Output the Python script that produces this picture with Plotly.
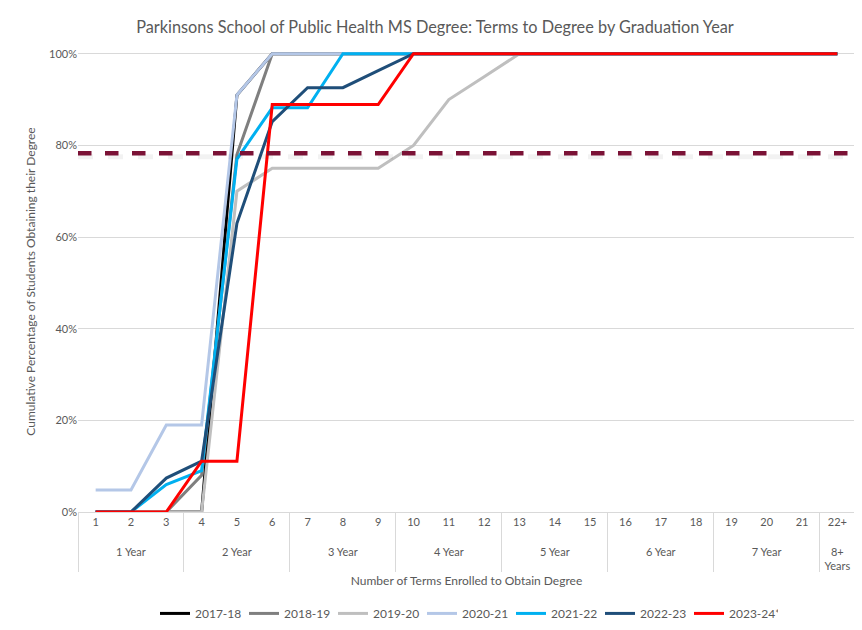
import plotly.graph_objects as go

# x-axis categories (two levels: year group / term)
# the leading <br> drops the group labels one line lower, as in the original
year_groups = ["<br>1 Year", "<br>1 Year", "<br>1 Year",
               "<br>2 Year", "<br>2 Year", "<br>2 Year",
               "<br>3 Year", "<br>3 Year", "<br>3 Year",
               "<br>4 Year", "<br>4 Year", "<br>4 Year",
               "<br>5 Year", "<br>5 Year", "<br>5 Year",
               "<br>6 Year", "<br>6 Year", "<br>6 Year",
               "<br>7 Year", "<br>7 Year", "<br>7 Year",
               "<br>8+<br>Years"]
terms = ["1", "2", "3", "4", "5", "6", "7", "8", "9", "10", "11",
         "12", "13", "14", "15", "16", "17", "18", "19", "20", "21", "22+"]

# cumulative % of students with degree, by graduation year
pct_2017_18 = [0, 0, 0, 0, 91, 100, 100, 100, 100, 100, 100,
               100, 100, 100, 100, 100, 100, 100, 100, 100, 100, 100]
pct_2018_19 = [0, 0, 0, 8, 78, 100, 100, 100, 100, 100, 100,
               100, 100, 100, 100, 100, 100, 100, 100, 100, 100, 100]
pct_2019_20 = [0, 0, 0, 0, 70, 75, 75, 75, 75, 80, 90,
               95, 100, 100, 100, 100, 100, 100, 100, 100, 100, 100]
pct_2020_21 = [4.8, 4.8, 19, 19, 91, 100, 100, 100, 100, 100, 100,
               100, 100, 100, 100, 100, 100, 100, 100, 100, 100, 100]
pct_2021_22 = [0, 0, 6, 9, 77, 88.2, 88.2, 100, 100, 100, 100,
               100, 100, 100, 100, 100, 100, 100, 100, 100, 100, 100]
pct_2022_23 = [0, 0, 7.4, 11.1, 63, 85.2, 92.6, 92.6, 96.3, 100, 100,
               100, 100, 100, 100, 100, 100, 100, 100, 100, 100, 100]
pct_2023_24 = [0, 0, 0, 11.1, 11.1, 88.9, 88.9, 88.9, 88.9, 100, 100,
               100, 100, 100, 100, 100, 100, 100, 100, 100, 100, 100]

series_names = ["2017-18", "2018-19", "2019-20", "2020-21",
                "2021-22", "2022-23", "2023-24*"]
series_values = [pct_2017_18, pct_2018_19, pct_2019_20, pct_2020_21,
                 pct_2021_22, pct_2022_23, pct_2023_24]
series_colors = ["#000000", "#7F7F7F", "#BFBFBF", "#B4C7E7",
                 "#00B0F0", "#1F4E79", "#FF0000"]

target_pct = 78.3

FONT = "Lato"
GREY_TXT = "#595959"

fig = go.Figure()

for name, vals, color in zip(series_names, series_values, series_colors):
    fig.add_trace(go.Scatter(
        x=[year_groups, terms],
        y=vals,
        name=name,
        mode="lines",
        line=dict(color=color, width=3),
    ))

# soft shadow + dashed target line
fig.add_hline(y=target_pct - 0.8, line=dict(color="rgba(0,0,0,0.05)", width=5, dash="dash"))
fig.add_hline(y=target_pct, line=dict(color="#7B1236", width=4.5, dash="dash"))

# page body has an 8px margin, so the figure is a bit smaller to fit the window
fig.update_layout(
    width=854,
    height=622,
    plot_bgcolor="white",
    paper_bgcolor="white",
    margin=dict(l=70, r=7, t=43, b=118, autoexpand=False),
    font=dict(family=FONT, color=GREY_TXT, size=11),
    title=dict(
        text="Parkinsons School of Public Health MS Degree: Terms to Degree by Graduation Year",
        x=0.5,
        xanchor="center",
        xref="container",
        y=0.9695,
        yanchor="middle",
        font=dict(family=FONT, size=16.3, color=GREY_TXT),
    ),
    showlegend=True,
    legend=dict(
        orientation="h",
        x=0.5,
        xanchor="center",
        y=-0.22,
        yanchor="middle",
        entrywidth=44,
        font=dict(family=FONT, size=12, color=GREY_TXT),
    ),
)

fig.update_xaxes(
    type="multicategory",
    range=[-0.5, 21.5],
    automargin=False,
    showgrid=False,
    showline=True,
    linecolor="#D9D9D9",
    linewidth=1,
    showdividers=True,
    dividercolor="#D9D9D9",
    dividerwidth=1,
    tickfont=dict(family=FONT, size=11, color=GREY_TXT),
    title=dict(text="Number of Terms Enrolled to Obtain Degree", standoff=5,
               font=dict(family=FONT, size=12, color=GREY_TXT)),
)
fig.update_yaxes(
    range=[0, 100.6],
    automargin=False,
    tickvals=[0, 20, 40, 60, 80, 100],
    ticktext=["0%", "20%", "40%", "60%", "80%", "100%"],
    showgrid=True,
    gridcolor="#D9D9D9",
    zeroline=False,
    showline=False,
    tickfont=dict(family=FONT, size=11, color=GREY_TXT),
    title=dict(text="Cumulative Percentage of Students Obtaining their Degree",
               font=dict(family=FONT, size=12, color=GREY_TXT), standoff=10),
)

fig.write_html("out.html")
